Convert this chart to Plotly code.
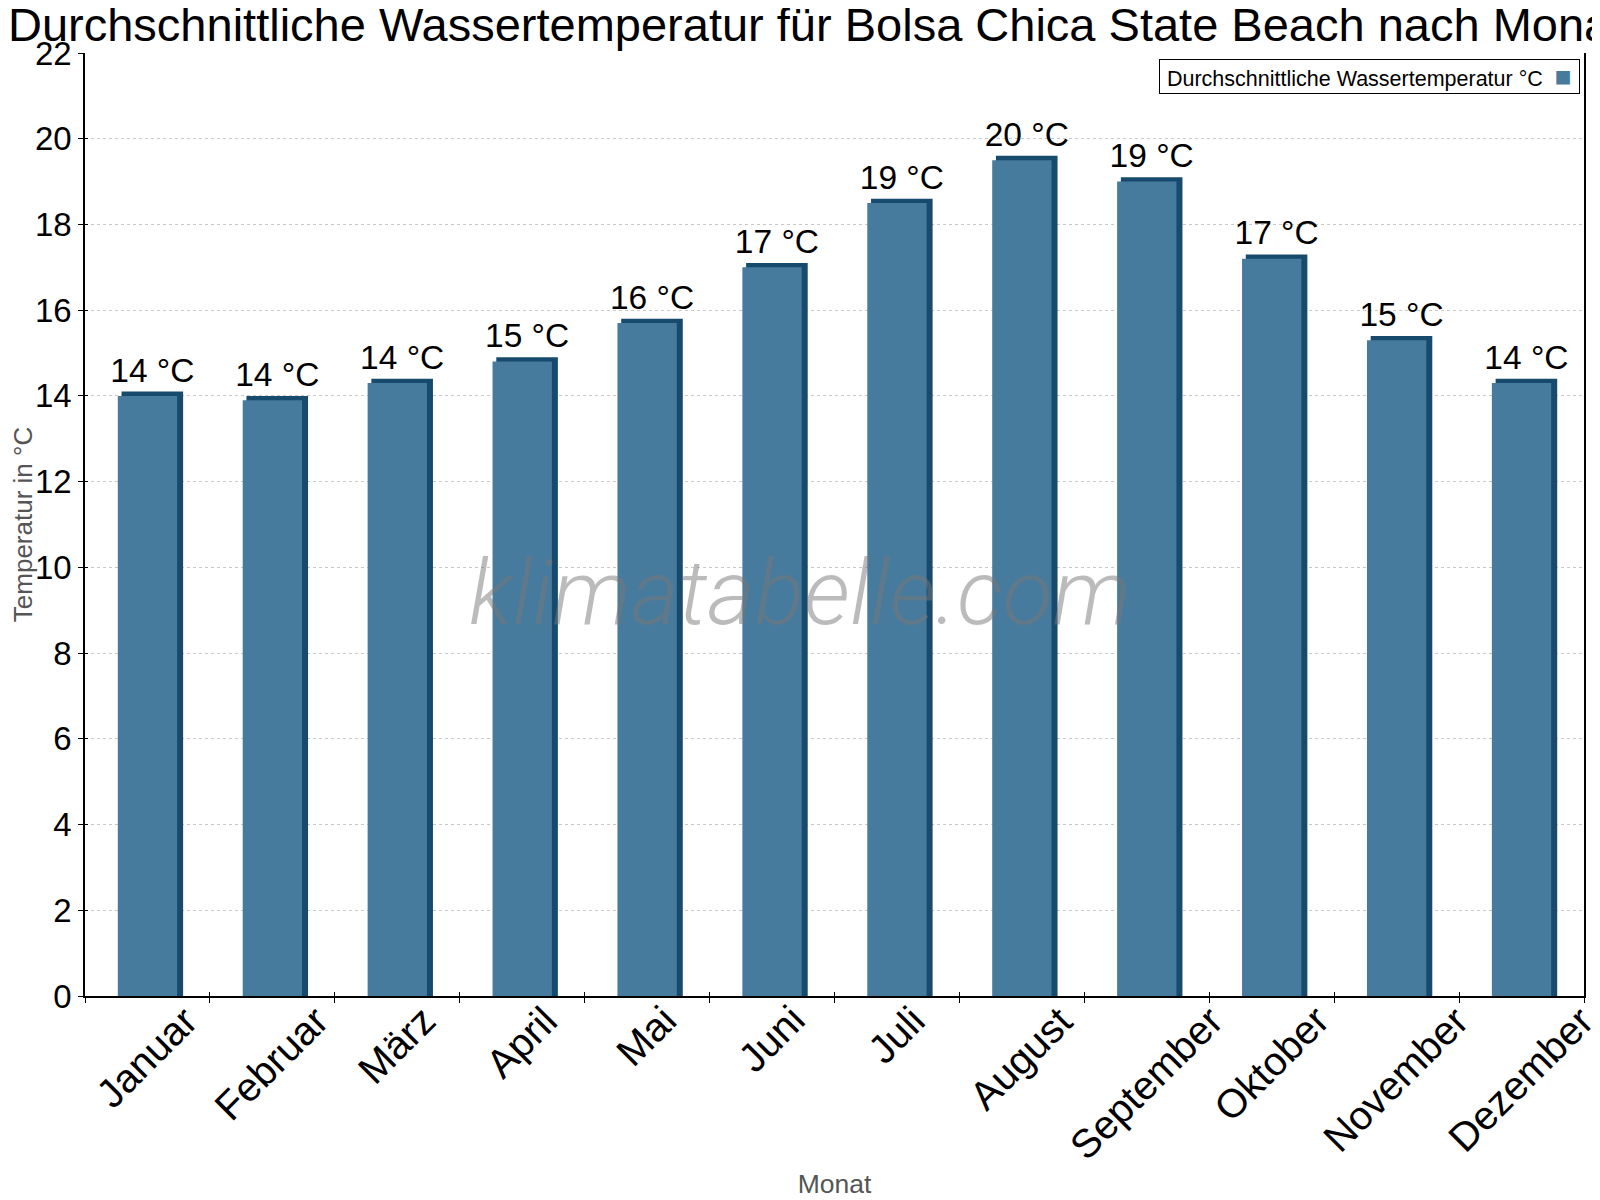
import plotly.graph_objects as go

# Monatliche Wassertemperatur, Bolsa Chica State Beach
months = ["Januar", "Februar", "März", "April", "Mai", "Juni",
          "Juli", "August", "September", "Oktober", "November", "Dezember"]
temps = [14.0, 13.9, 14.3, 14.8, 15.7, 17.0, 18.5, 19.5, 19.0, 17.2, 15.3, 14.3]
labels = ["14 °C", "14 °C", "14 °C", "15 °C", "16 °C", "17 °C",
          "19 °C", "20 °C", "19 °C", "17 °C", "15 °C", "14 °C"]
y_ticks = list(range(0, 23, 2))

FRONT = "#467b9e"
SIDE = "#174a6c"
FONT = "Liberation Sans, Arial, sans-serif"
x_range = [-0.5, len(months) - 0.5]

fig = go.Figure()

# dunkle "Rückseite" fuer den 3D-Effekt (Oberkante + rechte Seite)
fig.add_trace(go.Bar(
    x=months, y=[t + 0.1 for t in temps],
    width=0.493, offset=-0.2075,
    marker=dict(color=SIDE, line=dict(width=0)),
    text=labels, textposition="outside", cliponaxis=False,
    constraintext="none",
    textfont=dict(family=FONT, size=33.5, color="black"),
    hoverinfo="skip", showlegend=False,
))

# Vorderseite
fig.add_trace(go.Bar(
    x=months, y=temps,
    width=0.475, offset=-0.2375,
    marker=dict(color=FRONT, line=dict(width=0)),
    name="Durchschnittliche Wassertemperatur °C",
    showlegend=False,
))

# unsichtbare Spur auf den Zweitachsen -> Ticks, die die Achse kreuzen
fig.add_trace(go.Scatter(
    x=months, y=temps, xaxis="x2", yaxis="y2",
    mode="markers", marker=dict(opacity=0),
    hoverinfo="skip", showlegend=False,
))

# die Seite hat 8px Body-Rand, daher alles etwas nach links/oben
fig.update_layout(
    width=1600, height=1200,
    barmode="overlay",
    paper_bgcolor="white", plot_bgcolor="white",
    margin=dict(l=77, r=24, t=45, b=212, autoexpand=False),
    font=dict(family=FONT, color="black"),
    title=dict(
        text="Durchschnittliche Wassertemperatur für Bolsa Chica State Beach nach Monat",
        font=dict(family=FONT, size=47, color="black"),
        x=0, xref="container", xanchor="left",
        y=1 - 17 / 1200, yref="container", yanchor="middle",
    ),
    xaxis=dict(
        type="category", tickson="boundaries",
        range=x_range, autorange=False,
        ticks="outside", ticklen=5, tickcolor="black",
        showline=True, linecolor="black", linewidth=1.5,
        showgrid=False, showticklabels=False, automargin=False,
        title=dict(text="Monat", font=dict(family=FONT, size=26.5, color="#555555"), standoff=178),
    ),
    yaxis=dict(
        range=[0, 22], tickvals=y_ticks,
        ticks="outside", ticklen=5, tickcolor="black",
        showline=True, linecolor="black", linewidth=1.5, mirror=True,
        showgrid=True, gridcolor="#c8c8c8", griddash="dot", gridwidth=1,
        zeroline=False, automargin=False,
        tickfont=dict(family=FONT, size=33, color="black"),
        title=dict(text="Temperatur in °C", font=dict(family=FONT, size=26, color="#555555"), standoff=3),
    ),
    xaxis2=dict(
        type="category", tickson="boundaries", overlaying="x", anchor="y2", side="bottom",
        range=x_range, autorange=False,
        ticks="inside", ticklen=4, tickcolor="black",
        showline=False, showgrid=False, showticklabels=False, zeroline=False, automargin=False,
    ),
    yaxis2=dict(
        overlaying="y", anchor="x2", side="left",
        range=[0, 22], tickvals=y_ticks,
        ticks="inside", ticklen=3, tickcolor="black",
        showline=False, showgrid=False, showticklabels=False, zeroline=False, automargin=False,
    ),
)

# Monatsnamen: schraeg, um die Mitte gedreht (wie im Original)
for m in months:
    fig.add_annotation(
        x=m, xref="x", y=0, yref="paper",
        xanchor="center", yanchor="top", textangle=-45,
        xshift=-1, yshift=1, showarrow=False, text=m,
        font=dict(family=FONT, size=40, color="black"),
    )

# Legende wie im Original: Text links, Symbol rechts
fig.add_annotation(
    xref="paper", yref="paper", x=0.9973, y=0.9936,
    xanchor="right", yanchor="top", showarrow=False,
    text=("&nbsp;Durchschnittliche Wassertemperatur °C&nbsp;&nbsp;"
          "<span style='color:%s;font-size:28px'>■</span>&nbsp;" % FRONT),
    font=dict(family=FONT, size=21.5, color="black"),
    bordercolor="black", borderwidth=1, borderpad=1, bgcolor="white",
)

# Wasserzeichen
fig.add_annotation(
    xref="paper", yref="paper", x=0.4773, y=0.4274,
    xanchor="center", yanchor="middle", showarrow=False,
    text="klimatabelle.com",
    font=dict(family="Roboto", size=91.5, color="rgba(120,120,120,0.5)", style="italic", weight=300),
)

fig.write_html("out.html")
